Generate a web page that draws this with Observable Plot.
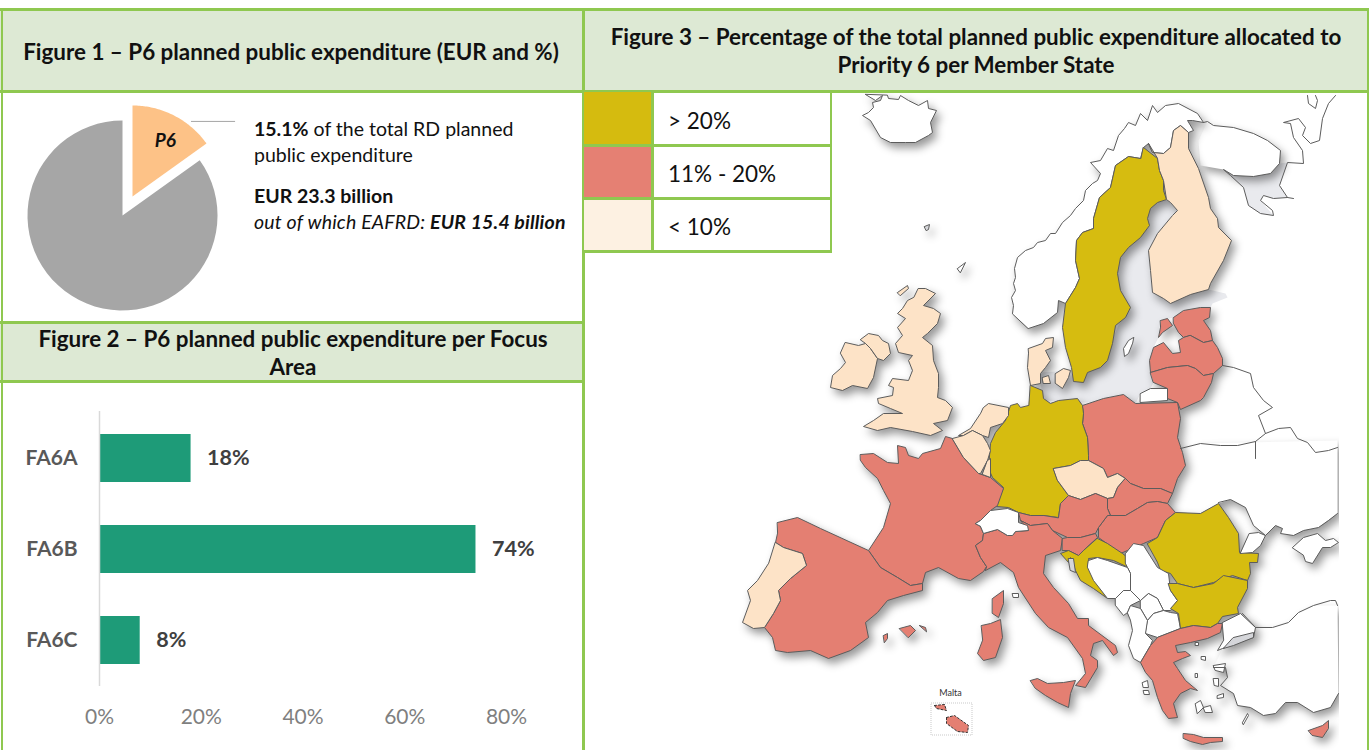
<!DOCTYPE html>
<html>
<head>
<meta charset="utf-8">
<script src="https://cdn.jsdelivr.net/npm/d3@7"></script>
<script src="https://cdn.jsdelivr.net/npm/@observablehq/plot@0.6"></script>
<style>
html,body{margin:0;padding:0;background:#fff;width:1369px;height:750px;overflow:hidden;font-family:Lato,"Noto Sans",sans-serif;color:#000}
.abs{position:absolute}
.hdr{position:absolute;background:#dde9d4}
.g{position:absolute;background:#8fc850}
.t{position:absolute;white-space:nowrap;font-family:Lato,sans-serif}
.title{font-weight:700;font-size:22.4px;transform:translate(-50%,-50%);color:#111}
.body{font-size:19.5px;transform:translateY(-50%);color:#111}
.leg{font-size:22.5px;transform:translateY(-50%);color:#111}
</style>
</head>
<body>
<div id="root"></div>
<script>
// ---- Figure 1 ----
const pieLabels = ["P6", "Other"];
const pieValues = [15.1, 84.9];
const fig1Lines = [
  ["<b>15.1%</b> of the total RD planned", 128],
  ["public expenditure", 154],
  ["<b>EUR 23.3 billion</b>", 195],
  ["<i>out of which EAFRD: <b>EUR 15.4 billion</b></i>", 221]
];
// ---- Figure 2 ----
const barCategories = ["FA6A", "FA6B", "FA6C"];
const barValues = [18, 74, 8];
const barTicks = [0, 20, 40, 60, 80];
// ---- Figure 3 ----
const legendLabels = ["> 20%", "11% - 20%", "< 10%"];
const legendColors = ["#d5bb0f", "#e58073", "#fdf1e2"];
const mapColors = ["#d6bc10", "#e47f72", "#fde3c7", "#ffffff", "#d5d6da"];
const mapClasses = ["high", "mid", "low", "none", "sea"];
// outlines, in the picture's own map units
const baltic = [[1166,199],[1177,210],[1172,215],[1157,233],[1148,250],[1150,270],[1152,292],[1163,298],[1170,303],[1190,294],[1208,289],[1225,293],[1227,297],[1212,303],[1210,307],[1183,310],[1173,317],[1160,320],[1158,337],[1153,347],[1149,360],[1150,372],[1153,382],[1150,388],[1140,393],[1135,403],[1120,400],[1100,402],[1075,402],[1045,400],[1040,385],[1040,372],[1072,370],[1085,372],[1100,367],[1120,320],[1130,307],[1120,290],[1117,273],[1120,257],[1128,247],[1140,237],[1149,225],[1147,218],[1150,208],[1157,202]];
const whiteSea = [[1223,169],[1233,175],[1253,176],[1270,173],[1279,163],[1287,162],[1279,185],[1287,197],[1273,198],[1263,195],[1260,200],[1273,215],[1260,213],[1248,205],[1243,187]];
const kolaLand = [[1207,121],[1213,125],[1233,127],[1253,133],[1267,140],[1280,150],[1279,163],[1270,173],[1253,176],[1233,175],[1223,169],[1200,165],[1198,140]];
const ukraineLand = [[1218,503],[1230,499],[1245,507],[1253,525],[1265,535],[1275,525],[1282,528],[1280,533],[1293,535],[1303,530],[1318,527],[1337,513],[1337,440],[1200,443],[1180,450],[1167,503],[1175,512],[1200,513]];
const turkeyLand = [[1242,613],[1255,627],[1272,627],[1288,622],[1298,612],[1313,605],[1337,605],[1338,693],[1330,707],[1313,712],[1297,702],[1285,702],[1275,713],[1263,715],[1250,707],[1237,705],[1233,693],[1220,685],[1227,677],[1225,667],[1213,667],[1222,648],[1237,642],[1253,637]];

const sweden = [[1143,147],[1157,158],[1159,170],[1163,180],[1163,190],[1166,199],[1157,202],[1150,208],[1147,218],[1149,225],[1140,237],[1128,247],[1120,257],[1117,273],[1120,290],[1130,307],[1125,317],[1115,325],[1112,343],[1107,360],[1100,367],[1087,372],[1083,382],[1073,381],[1071,367],[1065,347],[1062,327],[1065,303],[1075,287],[1079,278],[1075,260],[1076,240],[1082,232],[1093,228],[1093,218],[1099,197],[1110,187],[1115,165],[1128,156],[1140,158]];
const finland = [[1148,143],[1152,152],[1163,153],[1170,147],[1173,130],[1180,125],[1188,132],[1188,148],[1198,168],[1208,197],[1210,208],[1217,218],[1218,227],[1231,240],[1223,260],[1210,283],[1208,289],[1190,294],[1170,303],[1163,298],[1152,292],[1150,270],[1148,250],[1157,233],[1172,215],[1177,210],[1170,202],[1166,199],[1163,180],[1159,170],[1157,158]];
const norway = [[1012,313],[1013,305],[1011,297],[1015,290],[1013,283],[1015,277],[1014,268],[1017,257],[1025,250],[1033,247],[1037,242],[1045,240],[1050,233],[1055,233],[1062,222],[1070,215],[1075,208],[1083,200],[1085,190],[1092,183],[1097,180],[1100,173],[1090,162],[1100,160],[1107,148],[1113,150],[1118,135],[1124,128],[1128,122],[1135,125],[1140,113],[1147,120],[1152,105],[1157,112],[1165,105],[1178,103],[1197,113],[1203,122],[1192,120],[1187,120],[1193,130],[1188,132],[1180,125],[1173,130],[1170,147],[1163,153],[1152,152],[1148,143],[1143,147],[1140,158],[1128,156],[1115,165],[1110,187],[1099,197],[1093,218],[1093,228],[1082,232],[1076,240],[1075,260],[1079,278],[1075,287],[1065,303],[1058,300],[1057,312],[1043,323],[1028,328]];
const estonia = [[1173,317],[1183,310],[1200,307],[1210,307],[1209,317],[1203,320],[1210,330],[1212,340],[1203,342],[1190,335],[1183,337],[1178,332],[1173,323]];
const saaremaa = [[1160,320],[1167,318],[1172,325],[1162,332],[1158,337],[1160,327]];
const latvia = [[1190,335],[1203,342],[1212,340],[1217,347],[1222,358],[1222,365],[1213,373],[1203,375],[1195,368],[1187,365],[1167,367],[1150,372],[1149,360],[1153,347],[1163,342],[1172,353],[1180,352],[1178,340],[1183,337]];
const lithuania = [[1150,372],[1167,367],[1187,365],[1195,368],[1203,375],[1213,373],[1211,382],[1203,397],[1200,400],[1180,409],[1177,402],[1167,398],[1167,388],[1153,382]];
const kaliningrad = [[1140,393],[1150,388],[1167,388],[1167,400],[1140,402]];
const gotland = [[1133,337],[1128,340],[1123,348],[1124,356],[1128,353],[1132,343]];
const jutland = [[1028,348],[1042,343],[1045,338],[1053,337],[1052,347],[1045,350],[1050,360],[1045,367],[1040,373],[1040,383],[1030,385],[1027,367],[1028,353]];
const zealand = [[1055,373],[1063,368],[1070,370],[1068,377],[1062,388],[1055,383]];
const funen = [[1042,377],[1048,375],[1050,383],[1043,383]];
const germany = [[1030,385],[1042,390],[1043,398],[1050,403],[1058,400],[1077,398],[1082,405],[1083,413],[1082,423],[1087,437],[1088,455],[1088,460],[1080,460],[1070,465],[1053,468],[1057,480],[1068,495],[1060,503],[1058,517],[1043,515],[1030,515],[1018,512],[1008,507],[996,506],[997,502],[1003,487],[992,477],[988,468],[990,443],[995,432],[1005,420],[1010,405],[1017,403],[1020,407],[1028,405]];
const poland = [[1082,405],[1103,398],[1123,394],[1135,403],[1177,402],[1180,418],[1177,437],[1182,452],[1185,465],[1177,478],[1172,493],[1160,488],[1143,488],[1130,483],[1125,478],[1117,473],[1107,477],[1103,468],[1088,460],[1088,455],[1087,437],[1082,423],[1083,413]];
const czechia = [[1053,468],[1070,465],[1080,460],[1088,460],[1103,468],[1107,477],[1117,473],[1125,478],[1117,487],[1113,497],[1107,498],[1095,493],[1080,499],[1068,495],[1057,480]];
const slovakia = [[1125,478],[1130,483],[1143,488],[1160,488],[1172,493],[1167,503],[1157,501],[1147,502],[1137,508],[1125,515],[1110,515],[1107,508],[1107,498],[1113,497],[1117,487]];
const hungary = [[1110,515],[1125,515],[1137,508],[1147,502],[1157,501],[1167,503],[1175,512],[1165,520],[1157,537],[1143,543],[1120,553],[1098,537],[1098,527],[1107,515]];
const austria = [[1058,517],[1060,503],[1068,495],[1080,499],[1095,493],[1107,498],[1107,508],[1110,515],[1107,515],[1098,527],[1095,533],[1080,537],[1067,537],[1052,530],[1047,523],[1030,525],[1020,520],[1018,512],[1030,515],[1043,515]];
const slovenia = [[1062,538],[1067,537],[1080,537],[1095,533],[1097,537],[1083,550],[1078,555],[1068,550],[1062,550]];
const croatia = [[1097,538],[1107,543],[1122,553],[1127,557],[1128,567],[1113,560],[1097,557],[1088,558],[1090,568],[1097,580],[1103,593],[1107,598],[1093,588],[1080,580],[1075,570],[1070,557],[1068,562],[1060,553],[1068,550],[1078,555],[1083,550]];
const romania = [[1147,543],[1157,537],[1165,520],[1175,512],[1200,513],[1218,503],[1228,517],[1238,533],[1239,552],[1258,553],[1257,562],[1249,562],[1250,573],[1247,580],[1232,575],[1213,582],[1193,587],[1177,583],[1170,573],[1160,570],[1157,562]];
const bulgaria = [[1168,583],[1177,583],[1193,587],[1213,583],[1223,575],[1247,580],[1247,588],[1237,607],[1238,613],[1222,616],[1217,623],[1210,627],[1193,625],[1180,628],[1178,613],[1170,608],[1177,600],[1170,590]];
const greece = [[1180,628],[1193,625],[1210,627],[1217,623],[1222,623],[1220,632],[1207,638],[1190,642],[1175,645],[1177,652],[1185,651],[1190,655],[1182,658],[1173,662],[1177,668],[1185,680],[1197,690],[1190,688],[1180,693],[1173,703],[1177,717],[1168,718],[1162,710],[1157,697],[1152,680],[1145,672],[1140,662],[1150,645],[1157,637]];
const crete = [[1183,733],[1193,734],[1203,737],[1222,737],[1222,741],[1210,742],[1202,744],[1190,741],[1183,738]];
const italy = [[985,570],[1000,562],[1013,572],[1018,587],[1035,613],[1048,627],[1067,637],[1082,658],[1085,673],[1075,685],[1085,687],[1097,667],[1097,660],[1090,655],[1093,643],[1102,640],[1113,655],[1117,652],[1115,645],[1088,625],[1088,618],[1077,618],[1068,603],[1053,587],[1043,573],[1045,555],[1060,550],[1062,538],[1052,530],[1047,523],[1030,525],[1020,520],[1028,530],[1015,531],[1012,535],[1007,535],[997,529],[983,533],[982,540],[975,545],[980,557],[986,566]];
const sicily = [[1030,680],[1037,678],[1047,683],[1063,682],[1075,680],[1070,693],[1068,707],[1057,702],[1045,695],[1035,688]];
const sardinia = [[981,625],[990,623],[1000,619],[1002,637],[995,657],[983,660],[977,653],[982,640]];
const corsica = [[992,598],[1003,590],[1003,603],[998,617],[992,613]];
const france = [[860,454],[873,453],[887,462],[898,463],[897,445],[905,447],[908,455],[918,458],[922,453],[940,448],[945,436],[952,438],[963,457],[978,473],[990,477],[1003,488],[997,505],[990,510],[980,520],[975,523],[980,526],[983,533],[982,540],[975,545],[980,557],[986,566],[983,571],[970,580],[958,578],[938,567],[925,572],[922,583],[910,585],[897,577],[880,567],[868,550],[883,527],[890,503],[883,490],[877,478],[865,467],[860,460]];
const switzerland = [[975,523],[980,520],[990,510],[1007,508],[1018,512],[1018,522],[1027,525],[1028,530],[1015,531],[1012,535],[1007,535],[997,529],[983,533],[980,526]];
const spain = [[777,522],[797,517],[820,528],[868,550],[880,567],[897,577],[910,585],[922,583],[922,590],[903,595],[887,600],[877,612],[865,622],[868,637],[850,650],[828,658],[810,650],[787,652],[775,650],[772,637],[764,627],[773,613],[780,600],[778,590],[790,578],[806,565],[802,553],[783,547],[775,542],[777,533]];
const portugal = [[775,542],[783,547],[802,553],[806,565],[790,578],[778,590],[780,600],[773,613],[764,627],[753,628],[742,622],[750,600],[747,590],[757,580],[768,563]];
const mallorca = [[899,628],[910,625],[915,630],[908,637]];
const menorca = [[919,625],[925,627],[926,631]];
const ibiza = [[883,635],[887,633],[887,638],[884,642]];
const britain = [[918,288],[925,288],[935,293],[923,305],[933,308],[940,313],[937,323],[927,333],[922,337],[932,345],[933,360],[938,373],[938,387],[937,397],[945,400],[952,407],[947,420],[933,423],[942,430],[930,435],[912,431],[890,427],[877,430],[863,426],[873,420],[883,413],[902,413],[890,408],[878,403],[877,398],[892,395],[893,387],[888,385],[892,378],[908,380],[912,370],[908,360],[912,355],[898,352],[895,343],[902,335],[897,327],[905,318],[897,313],[902,308],[907,300],[913,297]];
const ireland = [[845,342],[858,345],[865,343],[870,348],[877,358],[873,377],[867,388],[852,385],[842,390],[830,387],[832,375],[840,368],[845,362],[840,353]];
const nireland = [[860,339],[868,333],[878,335],[882,340],[888,343],[890,353],[883,360],[877,358],[870,348],[865,343]];
const orkney = [[897,292],[907,285],[908,288],[900,295]];
const netherlands = [[983,407],[988,403],[1008,407],[1008,415],[1002,423],[990,427],[988,437],[982,435],[972,430],[963,435],[958,435],[970,428],[980,413]];
const belgium = [[952,438],[963,435],[972,430],[982,435],[987,443],[990,450],[987,460],[980,473],[978,473],[963,457]];
const luxembourg = [[987,460],[990,458],[990,477],[982,474]];
const iceland = [[865,94],[875,100],[882,95],[880,100],[872,102],[873,107],[868,112],[862,115],[870,120],[880,137],[890,142],[905,142],[915,142],[928,135],[932,132],[930,122],[936,110],[928,108],[927,100],[918,105],[908,100],[900,95],[898,99],[888,98],[887,95]];
const shetland = [[957,268],[965,262],[960,272]];
const faroes = [[924,226],[929,224],[928,229],[926,230]];
const serbia = [[1125,553],[1133,543],[1143,545],[1157,567],[1168,573],[1170,590],[1177,600],[1170,610],[1163,610],[1157,598],[1148,593],[1140,600],[1130,590],[1130,573],[1125,563]];
const bosnia = [[1088,560],[1097,557],[1107,560],[1127,567],[1130,573],[1130,590],[1123,590],[1115,598],[1107,598],[1093,580],[1087,567]];
const montenegro = [[1115,598],[1123,590],[1130,590],[1140,600],[1130,605],[1127,612],[1123,615],[1115,605]];
const kosovo = [[1140,600],[1148,593],[1157,598],[1163,610],[1153,613],[1147,620],[1140,608]];
const macedonia = [[1147,620],[1153,613],[1163,610],[1170,612],[1177,613],[1180,628],[1157,637],[1145,633]];
const albania = [[1127,612],[1130,605],[1140,608],[1147,620],[1145,633],[1152,640],[1150,645],[1140,662],[1133,658],[1128,645],[1132,630],[1130,620]];
const moldovaStrip = [[1249,533],[1258,532],[1265,535],[1260,545],[1252,552],[1240,553]];
const crimea = [[1292,547],[1303,537],[1317,533],[1325,540],[1333,538],[1338,542],[1330,547],[1322,547],[1312,563],[1305,561],[1303,555]];
const thrace = [[1222,622],[1240,613],[1255,627],[1253,637],[1237,642],[1222,648],[1217,650],[1223,640]];
const marmara = [[1233,637],[1253,632],[1253,637],[1233,645],[1223,648]];
const cyprus = [[1308,730],[1322,725],[1328,720],[1328,728],[1322,737],[1312,735]];
const gozo = [[934,705],[944,704],[946,710],[936,708]];
const maltaMain = [[946,717],[954,715],[968,725],[967,732],[957,731],[946,723]];
const corfu = [[1142,682],[1147,680],[1148,687],[1143,687]];
const kefalonia = [[1143,690],[1148,690],[1149,694],[1144,694]];
const thasos = [[1195,642],[1198,642],[1198,645],[1195,645]];
const lemnos = [[1201,656],[1205,656],[1205,660],[1201,659]];
const lesbos = [[1213,665],[1225,663],[1223,672],[1215,670]];
const chios = [[1213,678],[1218,678],[1218,686],[1214,685]];
const samos = [[1217,695],[1223,693],[1223,697],[1217,698]];
const naxos = [[1195,703],[1200,700],[1203,707],[1197,713]];
const paros = [[1203,707],[1210,705],[1212,712],[1205,712]];
const rhodes = [[1242,722],[1247,713],[1248,715],[1243,724]];
const skyros = [[1195,673],[1197,673],[1197,677],[1195,677]];
const elba = [[1012,593],[1018,593],[1018,597],[1013,597]];
const krk = [[1068,558],[1073,558],[1075,572],[1070,570]];

const borderLines = [
  [[1222,365],[1233,367],[1250,373],[1253,387],[1263,400],[1272,407],[1258,415],[1265,433],[1255,441],[1237,445],[1220,445],[1200,443],[1180,448]],
  [[1255,441],[1255,458]],
  [[1265,433],[1278,428],[1290,427],[1297,438],[1307,442],[1315,452],[1328,450],[1337,447]],
  [[1218,502],[1230,499],[1245,507],[1253,525],[1265,535],[1275,525],[1282,528],[1280,533],[1293,535],[1303,530],[1318,527],[1328,520],[1337,513]],
  [[1242,613],[1255,627],[1272,627],[1288,622],[1298,612],[1313,605],[1330,600],[1335,600],[1337,605]],
  [[1213,667],[1225,667],[1227,677],[1220,685],[1233,693],[1237,705],[1250,707],[1263,715],[1275,713],[1285,702],[1297,702],[1313,712],[1330,707],[1338,693]],
  [[1203,122],[1207,121],[1213,125],[1233,127],[1253,133],[1267,140],[1280,150],[1279,163],[1270,173],[1253,176],[1233,175],[1223,169],[1230,175],[1243,187],[1248,205],[1260,213],[1273,215],[1272,210],[1260,200],[1263,195],[1273,198],[1287,197],[1293,198]],
  [[1287,197],[1279,185],[1287,162],[1303,163],[1302,150],[1293,137],[1290,123],[1283,122],[1298,118],[1305,127],[1302,135],[1310,143],[1319,140],[1322,118],[1328,103],[1335,95]],
  [[1307,95],[1308,103],[1315,108],[1317,100],[1315,95]]
];

const maltaLabel = "Malta";
const maltaBox = [[931,703,972,735]];

// ---- Table for the map marks ----
const shapes = [
  ["norway",norway,"none"],["sweden",sweden,"high"],["finland",finland,"low"],["estonia",estonia,"mid"],["saaremaa",saaremaa,"mid"],
  ["latvia",latvia,"mid"],["lithuania",lithuania,"mid"],["kaliningrad",kaliningrad,"none"],["gotland",gotland,"none"],
  ["jutland",jutland,"low"],["zealand",zealand,"low"],["funen",funen,"low"],["poland",poland,"mid"],["germany",germany,"high"],
  ["czechia",czechia,"low"],["slovakia",slovakia,"mid"],["hungary",hungary,"mid"],["austria",austria,"mid"],["france",france,"mid"],
  ["italy",italy,"mid"],["switzerland",switzerland,"none"],["slovenia",slovenia,"mid"],["croatia",croatia,"high"],
  ["romania",romania,"high"],["serbia",serbia,"none"],["bosnia",bosnia,"none"],["montenegro",montenegro,"none"],["kosovo",kosovo,"none"],
  ["macedonia",macedonia,"none"],["albania",albania,"none"],["bulgaria",bulgaria,"high"],["greece",greece,"mid"],["crete",crete,"mid"],
  ["sicily",sicily,"mid"],["sardinia",sardinia,"mid"],["corsica",corsica,"mid"],["spain",spain,"mid"],["portugal",portugal,"low"],
  ["mallorca",mallorca,"mid"],["menorca",menorca,"mid"],["ibiza",ibiza,"mid"],["britain",britain,"low"],["ireland",ireland,"low"],
  ["nireland",nireland,"low"],["orkney",orkney,"low"],["netherlands",netherlands,"low"],["belgium",belgium,"low"],["luxembourg",luxembourg,"low"],
  ["iceland",iceland,"none"],["shetland",shetland,"none"],["faroes",faroes,"sea"],["moldovaStrip",moldovaStrip,"none"],["crimea",crimea,"none"],
  ["thrace",thrace,"none"],["marmara",marmara,"sea"],["cyprus",cyprus,"mid"],
  ["corfu",corfu,"none"],["kefalonia",kefalonia,"none"],["thasos",thasos,"none"],["lemnos",lemnos,"none"],["lesbos",lesbos,"none"],
  ["chios",chios,"none"],["samos",samos,"none"],["naxos",naxos,"none"],["paros",paros,"none"],["rhodes",rhodes,"none"],["skyros",skyros,"none"],
  ["elba",elba,"none"],["krk",krk,"sea"]
];
const rowsOf = list => list.flatMap(([name, pts, cls]) => pts.map(([x, y]) => ({name, x, y, cls})));

const root = document.getElementById("root");
function box(cls, l, t, w, h, extra) {
  const d = document.createElement("div");
  d.className = cls;
  Object.assign(d.style, {left: l + "px", top: t + "px", width: w + "px", height: h + "px"}, extra || {});
  root.appendChild(d);
  return d;
}
function text(cls, html, l, t, extra) {
  const d = document.createElement("div");
  d.className = "t " + cls;
  d.innerHTML = html;
  Object.assign(d.style, {left: l + "px", top: t + "px"}, extra || {});
  root.appendChild(d);
  return d;
}
function place(el, l, t) {
  el.style.position = "absolute";
  el.style.left = l + "px";
  el.style.top = t + "px";
  root.appendChild(el);
}

// ---- Map ----
const shadow = "drop-shadow(4px 5px 4px rgba(0,0,0,.4))";
const mapPlot = Plot.plot({
  width: 1369, height: 750, margin: 0,
  style: {background: "transparent", fontFamily: "Lato"},
  x: {domain: [0, 1369], range: [0, 1369], axis: null},
  y: {domain: [0, 750], range: [0, 750], axis: null},
  color: {type: "ordinal", domain: mapClasses, range: mapColors},
  marks: [
    Plot.line(rowsOf([["baltic",baltic,"sea"],["whiteSea",whiteSea,"sea"]]), {x: "x", y: "y", z: "name", fill: "#e9eaee", stroke: "none", curve: "linear-closed"}),
    Plot.line(rowsOf([["kola",kolaLand],["ukraine",ukraineLand],["turkey",turkeyLand]]), {x: "x", y: "y", z: "name", fill: "#fff", stroke: "none", curve: "linear-closed", imageFilter: shadow}),
    Plot.line(rowsOf(shapes), {x: "x", y: "y", z: "name", fill: "cls", stroke: "#5c5c5c", strokeWidth: 1, curve: "linear-closed", imageFilter: shadow}),
    ...borderLines.map(l => Plot.line(l, {x: d => d[0], y: d => d[1], stroke: "#5c5c5c", strokeWidth: 1})),
    Plot.rect(maltaBox, {x1: d => d[0], y1: d => d[1], x2: d => d[2], y2: d => d[3], fill: "none", stroke: "#c9c9c9", strokeWidth: 1, strokeDasharray: "1,1"}),
    Plot.line(rowsOf([["gozo",gozo,"mid"],["maltaMain",maltaMain,"mid"]]), {x: "x", y: "y", z: "name", fill: "cls", stroke: "#333", strokeWidth: 1, strokeDasharray: "2,2", curve: "linear-closed"}),
    Plot.text([maltaLabel], {x: () => 950, y: () => 693, text: d => d, fontSize: 9, fill: "#333"})
  ]
});
place(mapPlot, 0, 0);

// ---- Panels ----
const GREEN = 3;
box("abs", 1339, 93, 28, 657, {background: "#fff"});
box("hdr", 0, 8, 1369, 83);
box("hdr", 0, 322, 583, 59);
box("abs", 584, 91, 246, 160, {background: "#fff"});
box("abs", 0, 91, 583, 231, {background: "#fff"});
box("abs", 0, 381, 583, 369, {background: "#fff"});
box("abs", 0, 0, 1369, 8, {background: "#fff"});

// Pie built from the values
const pieArcs = d3.pie().sort(null).value(d => d.value)(pieLabels.map((label, i) => ({label, value: pieValues[i]})));
const pieRows = pieArcs.flatMap(a => {
  const isP6 = a.data.label === "P6";
  const r = isP6 ? 0.958 : 1, ox = isP6 ? 0.105 : 0, oy = isP6 ? 0.2 : 0;
  const n = 60, pts = [{label: a.data.label, x: ox, y: oy}];
  for (let i = 0; i <= n; ++i) {
    const t = a.startAngle + (a.endAngle - a.startAngle) * i / n;
    pts.push({label: a.data.label, x: ox + r * Math.sin(t), y: oy + r * Math.cos(t)});
  }
  return pts;
});
const piePlot = Plot.plot({
  width: 250, height: 231, margin: 0,
  style: {background: "transparent", fontFamily: "Lato"},
  x: {domain: [-1.284, 1.347], range: [0, 250], axis: null},
  y: {domain: [-1.126, 1.305], range: [231, 0], axis: null},
  marks: [
    Plot.line(pieRows, {x: "x", y: "y", z: "label", fill: d => d.label === "P6" ? "#fdc287" : "#a6a6a6", stroke: "none", curve: "linear-closed"}),
    Plot.ruleY([0.99], {x1: 0.726, x2: 1.19, stroke: "#a6a6a6", strokeWidth: 1}),
    Plot.text([pieLabels[0]], {x: () => 0.45, y: () => 0.78, text: d => d, fontSize: 19, fontWeight: "bold", fontStyle: "italic", fill: "#111"})
  ]
});
place(piePlot, 0, 91);

// Bars
const barRows = barCategories.map((c, i) => ({c, v: barValues[i]}));
const barPlot = Plot.plot({
  width: 577, height: 369, marginLeft: 96, marginRight: 74, marginTop: 30, marginBottom: 64,
  style: {background: "transparent", fontFamily: "Lato"},
  x: {domain: [0, 80], ticks: barTicks},
  y: {domain: barCategories, paddingInner: 0.476, paddingOuter: 0.238},
  marks: [
    Plot.barX(barRows, {x: "v", y: "c", fill: "#1e9b78"}),
    Plot.ruleX([0], {stroke: "#d9d9d9", strokeWidth: 1.5}),
    Plot.axisX({ticks: barTicks, tickSize: 0, tickPadding: 23, tickFormat: d => d + "%", fontSize: 21, color: "#7f7f7f", label: null}),
    Plot.axisY({tickSize: 0, tickPadding: 22, fontSize: 21, fontWeight: "bold", color: "#595959", label: null}),
    Plot.text(barRows, {x: "v", y: "c", text: d => d.v + "%", dx: 16, textAnchor: "start", fontSize: 21.5, fontWeight: "bold", fill: "#404040"})
  ]
});
place(barPlot, 3, 381);

// Green rules
box("g", 0, 8, 1369, GREEN);
box("g", 0, 90, 1369, GREEN);
box("g", 1, 8, 2, 742);
box("g", 582, 8, 3, 742);
box("g", 1367, 8, 2, 742);
box("g", 0, 321, 584, GREEN);
box("g", 0, 380, 584, GREEN);

// Legend
legendLabels.forEach((label, i) => {
  const top = [92, 145, 198][i], h = [53, 53, 53][i];
  box("abs", 584, top, 68, h, {background: legendColors[i]});
  text("leg", label, 668, top + h / 2 + 1);
});
box("g", 584, 144, 246, GREEN);
box("g", 584, 197, 246, GREEN);
box("g", 584, 250, 248, GREEN);
box("g", 651, 92, 3, 160);
box("g", 830, 92, 2, 160);

// Titles and text
text("title", "Figure 1 – P6 planned public expenditure (EUR and %)", 291, 51);
text("title", "Figure 2 – P6 planned public expenditure per Focus", 293, 338);
text("title", "Area", 293, 366);
text("title", "Figure 3 – Percentage of the total planned public expenditure allocated to", 976, 36);
text("title", "Priority 6 per Member State", 976, 64);
fig1Lines.forEach(([html, y], i) => text("body", html, 254, y, i === 3 ? {letterSpacing: "0.17px"} : {}));
</script>
</body>
</html>
